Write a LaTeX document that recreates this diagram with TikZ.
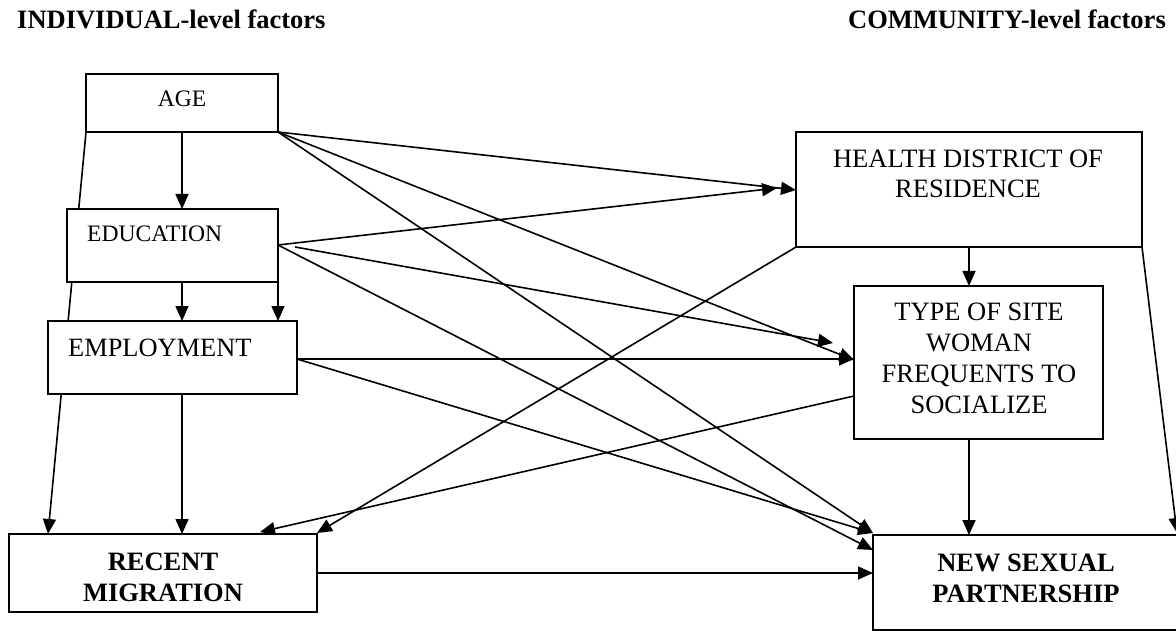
\documentclass[tikz,border=0pt]{standalone}
\usepackage{fontspec}
\setmainfont{Liberation Serif}
\usetikzlibrary{arrows.meta}
\pgfdeclarelayer{bg}
\pgfsetlayers{bg,main}
\newcommand\fsz[1]{\fontsize{#1}{30.7}\selectfont}
\tikzset{
  box/.style={draw, line width=1.8pt, fill=white, inner sep=0pt, outer sep=0pt, anchor=north west},
  conn/.style={line width=1.6pt, -{Triangle[length=15pt,width=13pt]}},
  txt/.style={inner sep=0pt, align=center},
}
\begin{document}
\begin{tikzpicture}[x=1pt,y=-1pt]
\useasboundingbox (0,0) rectangle (1176,631);
% titles
\node[txt, anchor=base west, font=\fsz{26.5}\bfseries] (tind) at (17,29) {INDIVIDUAL-level factors};
\node[txt, anchor=base east, font=\fsz{26.5}\bfseries] (tcom) at (1166,29) {COMMUNITY-level factors};
% boxes
\node[box, minimum width=192pt, minimum height=58pt] (age) at (86,74) {};
\node[box, minimum width=211pt, minimum height=73pt] (edu) at (67,209) {};
\node[box, minimum width=249pt, minimum height=73pt] (emp) at (48,321) {};
\node[box, minimum width=308pt, minimum height=78pt] (rec) at (9,534) {};
\node[box, minimum width=346pt, minimum height=115pt] (hea) at (796,132) {};
\node[box, minimum width=249pt, minimum height=153pt] (typ) at (854,286) {};
\node[box, minimum width=307pt, minimum height=95pt] (nsp) at (873,535) {};
% texts (base anchor = baseline of the last line)
\node[txt, anchor=base, font=\fsz{23.6}] (tage) at (182,107) {AGE};
\node[txt, anchor=base west, font=\fsz{23.6}] (tedu) at (87,242) {EDUCATION};
\node[txt, anchor=base west, font=\fsz{26.4}] (temp) at (68,356) {EMPLOYMENT};
\node[txt, anchor=base, font=\fsz{26.5}\bfseries] (trec) at (163,601) {RECENT\\MIGRATION};
\node[txt, anchor=base, font=\fsz{26.5}] (thea) at (968,198) {HEALTH DISTRICT OF\\RESIDENCE};
\node[txt, anchor=base, font=\fsz{26.5}] (ttyp) at (979,413) {TYPE OF SITE\\WOMAN\\FREQUENTS TO\\SOCIALIZE};
\node[txt, anchor=base, font=\fsz{26.5}\bfseries] (tnsp) at (1026,602) {NEW SEXUAL\\PARTNERSHIP};
% white page and the line passing behind the boxes
\begin{pgfonlayer}{bg}
\fill[white] (0,0) rectangle (1176,631);
\draw[conn] (age.south west) -- ([xshift=39pt]rec.north west);
\end{pgfonlayer}
% vertical arrows
\draw[conn] (age.south) -- (age.south |- edu.north);
\draw[conn] (age.south |- edu.south) -- (age.south |- emp.north);
\draw[conn] (edu.south east) -- (edu.south east |- emp.north);
\draw[conn] (age.south |- emp.south) -- (age.south |- rec.north);
\draw[conn] (hea.south) -- (hea.south |- typ.north);
\draw[conn] (hea.south |- typ.south) -- (hea.south |- nsp.north);
% from AGE
\draw[conn] (age.south east) -- ([yshift=-58pt]hea.north west);
\draw[conn] (age.south east) -- ([yshift=-74pt]typ.north west);
\draw[conn] (age.south east) -- ([yshift=2pt]nsp.north west);
% from EDUCATION
\draw[conn] ([yshift=-36pt]edu.north east) -- ([xshift=-19pt,yshift=-56pt]hea.north west);
\draw[conn] ([xshift=17pt,yshift=-38pt]edu.north east) -- ([xshift=-21pt,yshift=-57pt]typ.north west);
\draw[conn] ([yshift=-36pt]edu.north east) -- ([yshift=-15pt]nsp.north west);
% from EMPLOYMENT
\draw[conn] ([yshift=-38pt]emp.north east) -- ([yshift=-73pt]typ.north west);
\draw[conn] ([yshift=-38pt]emp.north east) -- ([yshift=2pt]nsp.north west);
% community to migration
\draw[conn] (hea.south west) -- ([yshift=1pt]rec.north east);
\draw[conn] ([yshift=-110pt]typ.north west) -- ([xshift=251pt,yshift=2pt]rec.north west);
% health to new sexual partnership
\draw[conn] (hea.south east) -- ([xshift=304pt,yshift=2pt]nsp.north west);
% migration to new sexual partnership
\draw[conn] (rec.east) -- (rec.east -| nsp.west);
\end{tikzpicture}
\end{document}
